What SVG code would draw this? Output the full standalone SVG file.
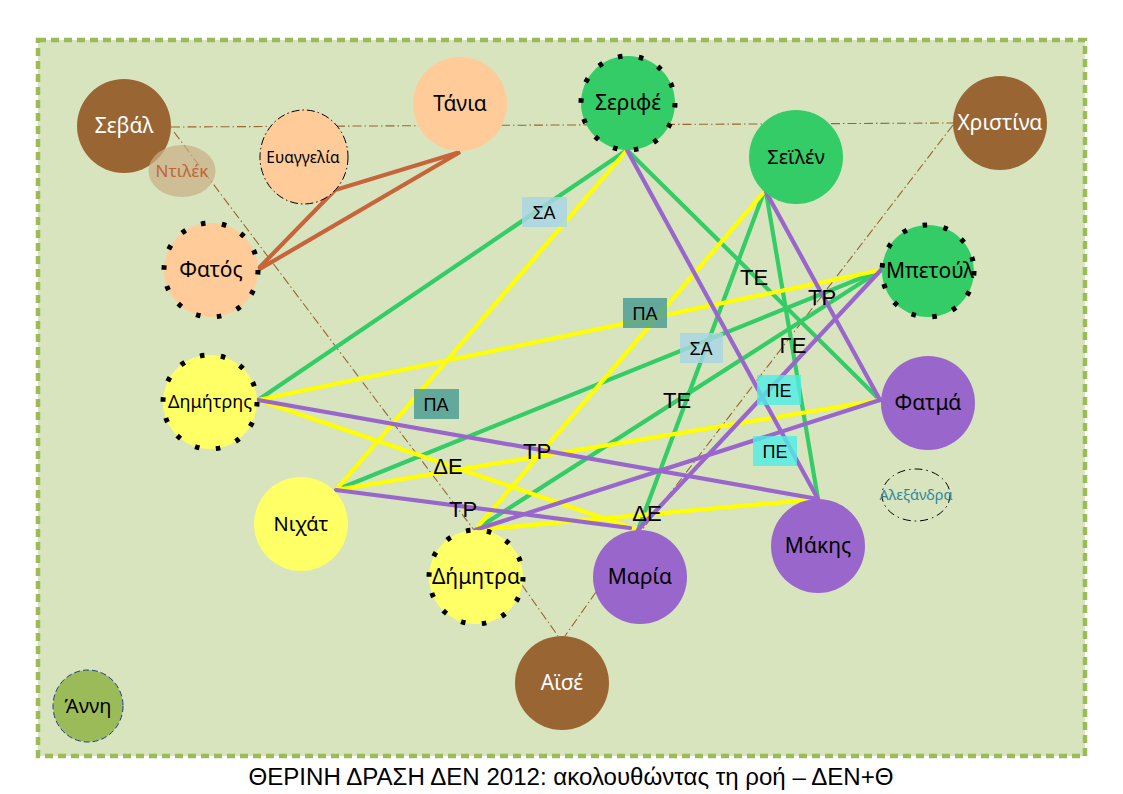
<svg xmlns="http://www.w3.org/2000/svg" width="1123" height="794" viewBox="0 0 1123 794">
<style>
.nl{font-family:"Noto Sans","Open Sans",sans-serif;text-anchor:middle;fill:#000}
.wl{fill:#fff}
.dot{stroke:#000;stroke-width:5;stroke-dasharray:4.5 16.6}
.bd{fill:none;stroke:#996633;stroke-width:1.1;stroke-dasharray:9 3 1.5 3}
.e{fill:none;stroke-width:4.2;stroke-linecap:round}
.g{stroke:#33CC66}.y{stroke:#FFFF00}.p{stroke:#9966CC}.o{stroke:#C8643A}
.lb{font-family:"Liberation Sans",Arial,sans-serif;font-size:22px;text-anchor:middle;fill:#000}
.bx{font-family:"Liberation Sans",Arial,sans-serif;font-size:18px;text-anchor:middle;fill:#000}
.sa{fill:#A9D5E6;opacity:0.82}.pa{fill:#4F9F95;opacity:0.85}.pe{fill:#4DEDE6;opacity:0.8}
</style>
<rect x="0" y="0" width="1123" height="794" fill="#ffffff"/>
<rect x="38" y="40" width="1047" height="716" fill="#D7E4BD" stroke="#9BBB59" stroke-width="4.5" stroke-dasharray="8 5"/>
<g id="connectors">
<line class="bd" x1="171" y1="127" x2="953" y2="123"/>
<line class="bd" x1="174" y1="132" x2="474" y2="530"/>
<line class="bd" x1="953" y1="125" x2="642" y2="530"/>
<line class="bd" x1="522" y1="585" x2="558" y2="636"/>
<line class="bd" x1="596" y1="592" x2="565" y2="636"/>
<polyline class="e o" points="258,269 335,190 460,152 258,270"/>
<line class="e g" x1="627" y1="150" x2="258" y2="400"/>
<line class="e g" x1="627" y1="150" x2="880" y2="400"/>
<line class="e g" x1="764" y1="192" x2="638" y2="530"/>
<line class="e g" x1="766" y1="192" x2="818" y2="499"/>
<line class="e g" x1="881" y1="270" x2="336" y2="490"/>
<line class="e g" x1="881" y1="270" x2="475" y2="530"/>
<line class="e y" x1="627" y1="150" x2="336" y2="490"/>
<line class="e y" x1="764" y1="192" x2="475" y2="530"/>
<line class="e y" x1="258" y1="400" x2="881" y2="270"/>
<line class="e y" x1="258" y1="400" x2="638" y2="530"/>
<line class="e y" x1="336" y1="490" x2="880" y2="400"/>
<line class="e y" x1="475" y1="530" x2="818" y2="499"/>
<line class="e p" x1="627" y1="150" x2="818" y2="499"/>
<line class="e p" x1="766" y1="192" x2="880" y2="400"/>
<line class="e p" x1="258" y1="400" x2="818" y2="499"/>
<line class="e p" x1="336" y1="490" x2="630" y2="528"/>
<line class="e p" x1="881" y1="270" x2="638" y2="530"/>
<line class="e p" x1="475" y1="530" x2="880" y2="400"/>
<rect class="sa" x="522" y="197" width="45" height="30"/>
<text class="bx" x="544" y="219">ΣΑ</text>
<rect class="pa" x="623" y="298" width="44" height="30"/>
<text class="bx" x="645" y="320">ΠΑ</text>
<rect class="sa" x="680" y="333" width="43" height="30"/>
<text class="bx" x="701" y="355">ΣΑ</text>
<rect class="pa" x="414" y="389" width="45" height="30"/>
<text class="bx" x="436" y="411">ΠΑ</text>
<rect class="pe" x="757" y="375" width="44" height="30"/>
<text class="bx" x="779" y="397">ΠΕ</text>
<rect class="pe" x="753" y="436" width="44" height="30"/>
<text class="bx" x="775" y="458">ΠΕ</text>
<text class="lb" x="754" y="285">ΤΕ</text>
<text class="lb" x="822" y="305">ΤΡ</text>
<text class="lb" x="793" y="353">ΓΕ</text>
<text class="lb" x="677" y="408">ΤΕ</text>
<text class="lb" x="537" y="459">ΤΡ</text>
<text class="lb" x="448" y="474">ΔΕ</text>
<text class="lb" x="463" y="517">ΤΡ</text>
<text class="lb" x="647" y="521">ΔΕ</text>
</g>
<g id="sebal"><circle cx="124" cy="126" r="47" fill="#996633"/><text class="nl wl" x="124" y="133" font-size="21">Σεβάλ</text></g>
<g id="ntilek"><ellipse cx="182" cy="171" rx="33.5" ry="26" fill="#C9AE85" opacity="0.72"/><text class="nl" x="182" y="177" font-size="17" style="fill:#C0653A">Ντιλέκ</text></g>
<g id="evangelia"><ellipse cx="304" cy="157" rx="44" ry="47" fill="#FFCC99" stroke="#000" stroke-width="1" stroke-dasharray="8 3 1.5 3"/><text class="nl" x="303" y="163" font-size="15.5">Ευαγγελία</text></g>
<g id="tania"><circle cx="460" cy="104" r="47" fill="#FFCC99"/><text class="nl" x="460" y="111" font-size="21">Τάνια</text></g>
<g id="serife"><circle cx="628" cy="103" r="47" fill="#33CC66"/><circle class="dot" cx="628" cy="103" r="47" fill="none"/><text class="nl" x="628" y="110" font-size="21">Σεριφέ</text></g>
<g id="seilen"><circle cx="796" cy="157" r="47" fill="#33CC66"/><text class="nl" x="796" y="164" font-size="20">Σεϊλέν</text></g>
<g id="christina"><circle cx="1000" cy="123" r="47" fill="#996633"/><text class="nl wl" x="1000" y="130" font-size="21">Χριστίνα</text></g>
<g id="betoul"><circle cx="928" cy="271" r="46" fill="#33CC66"/><circle class="dot" cx="928" cy="271" r="46" fill="none"/><text class="nl" x="930" y="278" font-size="21">Μπετούλ</text></g>
<g id="fatos"><circle cx="211" cy="270" r="47" fill="#FFCC99"/><circle class="dot" cx="211" cy="270" r="47" fill="none"/><text class="nl" x="211" y="277" font-size="21">Φατός</text></g>
<g id="dimitris"><circle cx="210" cy="402" r="47" fill="#FFFF66"/><circle class="dot" cx="210" cy="402" r="47" fill="none"/><text class="nl" x="210" y="408" font-size="18">Δημήτρης</text></g>
<g id="nichat"><circle cx="301" cy="524" r="47" fill="#FFFF66"/><text class="nl" x="301" y="531" font-size="20">Νιχάτ</text></g>
<g id="dimitra"><circle cx="476" cy="577" r="47" fill="#FFFF66"/><circle class="dot" cx="476" cy="577" r="47" fill="none"/><text class="nl" x="476" y="584" font-size="21">Δήμητρα</text></g>
<g id="maria"><circle cx="640" cy="577" r="47" fill="#9966CC"/><text class="nl" x="640" y="584" font-size="21">Μαρία</text></g>
<g id="makis"><circle cx="818" cy="546" r="47" fill="#9966CC"/><text class="nl" x="818" y="553" font-size="21">Μάκης</text></g>
<g id="fatma"><circle cx="928" cy="403" r="47" fill="#9966CC"/><text class="nl" x="928" y="410" font-size="21">Φατμά</text></g>
<g id="aise"><circle cx="562" cy="683" r="47" fill="#996633"/><text class="nl wl" x="562" y="690" font-size="21">Αϊσέ</text></g>
<g id="anni"><ellipse cx="88" cy="706" rx="35" ry="36" fill="#9BBB59" stroke="#1F3C8C" stroke-width="1" stroke-dasharray="6 3"/><text class="nl" x="88" y="713" font-size="20">Άννη</text></g>
<g id="alexandra"><ellipse cx="916" cy="495" rx="34" ry="26" fill="none" stroke="#000" stroke-width="1" stroke-dasharray="8 4 1.5 4"/><text class="nl" x="916" y="500" font-size="14.5" style="fill:#31859C">Αλεξάνδρα</text></g>
<text x="571" y="785" font-family="'Liberation Sans',Arial,sans-serif" font-size="23" text-anchor="middle" textLength="645" lengthAdjust="spacingAndGlyphs" fill="#000">ΘΕΡΙΝΗ ΔΡΑΣΗ ΔΕΝ 2012: ακολουθώντας τη ροή – ΔΕΝ+Θ</text>
</svg>
